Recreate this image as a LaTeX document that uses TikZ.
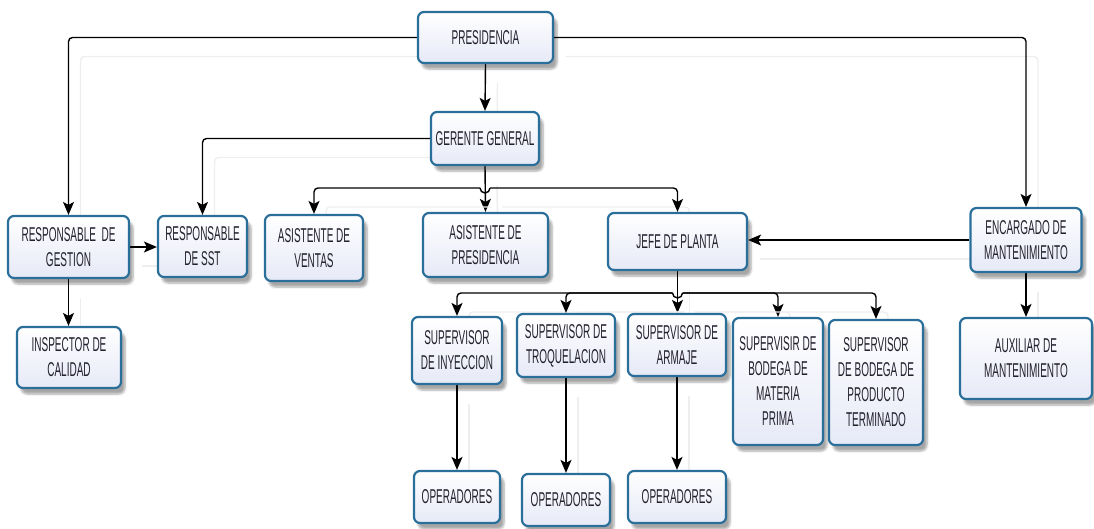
\documentclass[tikz,border=0pt]{standalone}
\usepackage{fontspec}
\setmainfont{Liberation Sans}[FakeStretch=0.5]
\usetikzlibrary{arrows.meta,shadows.blur,calc,backgrounds}
\definecolor{boxline}{HTML}{2A6E9A}
\definecolor{boxtop}{HTML}{FFFFFF}
\definecolor{boxbot}{HTML}{E6E9F7}
\definecolor{boxtext}{HTML}{23202E}
\definecolor{ghost}{HTML}{EEEEEE}
\begin{document}
\begin{tikzpicture}[x=1pt,y=-1pt,
  orgbox/.style={rectangle, rounded corners=6pt, draw=boxline, line width=2.2pt,
    top color=boxtop, bottom color=boxbot, text=boxtext, align=center,
    font=\fontsize{20}{25}\selectfont, inner sep=2pt,
    blur shadow={shadow xshift=4pt, shadow yshift=-6pt, shadow opacity=35, shadow blur steps=6}},
  conn/.style={line width=1.4pt, draw=black, rounded corners=4pt,
    -{Stealth[length=13pt,width=11pt,inset=3pt]},
    preaction={draw=ghost, line width=1.4pt, -, transform canvas={shift={(12,19)}}}},
]
\useasboundingbox (0,0) rectangle (1094,528);

% top levels
\node[orgbox, minimum width=135pt, minimum height=51pt] (pres) at (485.5,37.5) {PRESIDENCIA};
\node[orgbox, minimum width=108pt, minimum height=53pt] (ger) at (485,138.5) {GERENTE GENERAL};

% second row
\node[orgbox, minimum width=121pt, minimum height=62pt] (gest) at (68.5,247) {RESPONSABLE\ \ DE\\GESTION};
\node[orgbox, minimum width=89pt, minimum height=61pt] (sst) at (202.5,246.5) {RESPONSABLE\\DE SST};
\node[orgbox, minimum width=98pt, minimum height=66pt] (vent) at (314,248) {ASISTENTE DE\\VENTAS};
\node[orgbox, minimum width=125pt, minimum height=64pt] (asp) at (485.5,245) {ASISTENTE DE\\PRESIDENCIA};
\node[orgbox, minimum width=139pt, minimum height=57pt] (jefe) at (677.5,241.5) {JEFE DE PLANTA};
\node[orgbox, minimum width=111pt, minimum height=64pt] (enc) at (1026,240) {ENCARGADO DE\\MANTENIMIENTO};

% third row
\node[orgbox, minimum width=104pt, minimum height=61pt] (insp) at (69,357.5) {INSPECTOR DE\\CALIDAD};
\node[orgbox, minimum width=90pt, minimum height=67pt] (s1) at (457,350.5) {SUPERVISOR\\DE INYECCION};
\node[orgbox, minimum width=98pt, minimum height=63pt] (s2) at (566,345.5) {SUPERVISOR DE\\TROQUELACION};
\node[orgbox, minimum width=98pt, minimum height=62pt] (s3) at (677,345) {SUPERVISOR DE\\ARMAJE};
\node[orgbox, minimum width=90pt, minimum height=127pt] (s4) at (778,381.5) {SUPERVISIR DE\\BODEGA DE\\MATERIA\\PRIMA};
\node[orgbox, minimum width=94pt, minimum height=125pt] (s5) at (876,382.5) {SUPERVISOR\\DE BODEGA DE\\PRODUCTO\\TERMINADO};
\node[orgbox, minimum width=132pt, minimum height=81pt] (aux) at (1026,358.5) {AUXILIAR DE\\MANTENIMIENTO};

% operators
\node[orgbox, minimum width=86pt, minimum height=52pt] (op1) at (457,497) {OPERADORES};
\node[orgbox, minimum width=88pt, minimum height=52pt] (op2) at (566,500) {OPERADORES};
\node[orgbox, minimum width=98pt, minimum height=52pt] (op3) at (677,497) {OPERADORES};

\begin{scope}[on background layer]
% connectors from the top
\draw[conn] (pres.west) -| (gest.north);
\draw[conn] (pres.east) -| (enc.north);
\draw[conn] (pres.south) -- (ger.north);
\draw[conn] (ger.west) -| (sst.north);

% bus below GERENTE GENERAL
\coordinate (busA) at (ger.south |- 0,188);
\draw[conn] (ger.south) -- (asp.north);
\draw[conn] ($(busA)+(-5,0)$) -| (vent.north);
\draw[conn] ($(busA)+(5,0)$) -| (jefe.north);
\draw[line width=1.4pt] ($(busA)+(-5,0)$) arc[start angle=180, end angle=360, radius=5pt];

% side links
\draw[conn] (gest.east) -- (sst.west |- gest.east);
\draw[conn] (enc.west) -- (jefe.east |- enc.west);
\draw[conn] (enc.south) -- (aux.north);
\draw[conn] (gest.south) -- (gest.south |- insp.north);

% bus below JEFE DE PLANTA
\coordinate (busB) at (jefe.south |- 0,293);
\draw[conn] (jefe.south) -- (s3.north -| jefe.south);
\draw[conn] ($(busB)+(-5,0)$) -| (s1.north);
\draw[conn] ($(busB)+(-5,0)$) -| (s2.north);
\draw[conn] ($(busB)+(5,0)$) -| (s4.north);
\draw[conn] ($(busB)+(5,0)$) -| (s5.north);
\draw[line width=1.4pt] ($(busB)+(-5,0)$) arc[start angle=180, end angle=360, radius=5pt];

% operators
\draw[conn] (s1.south) -- (op1.north);
\draw[conn] (s2.south) -- (op2.north);
\draw[conn] (s3.south) -- (op3.north);
\end{scope}
\end{tikzpicture}
\end{document}
